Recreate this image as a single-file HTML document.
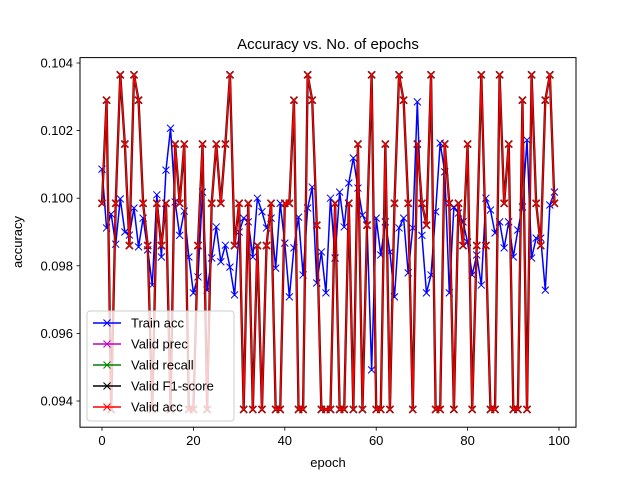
<!DOCTYPE html>
<html><head><meta charset="utf-8"><style>
html,body{margin:0;padding:0;background:#fff;}
svg{display:block;font-family:"Liberation Sans","DejaVu Sans",sans-serif;}
</style></head><body>
<svg id="chart" width="640" height="480" viewBox="0 0 640 480" xmlns="http://www.w3.org/2000/svg">
<rect x="0" y="0" width="640" height="480" fill="#fff"/>
<text x="328" y="49" font-size="15" text-anchor="middle">Accuracy vs. No. of epochs</text>
<text x="328" y="467" font-size="13" text-anchor="middle">epoch</text>
<text x="0" y="0" font-size="13" text-anchor="middle" transform="translate(22,242) rotate(-90)">accuracy</text>
<g id="ticks"></g>
<g id="series"></g>
<rect x="80" y="57.6" width="496" height="369.6" fill="none" stroke="#000" stroke-width="1"/>
<g id="legend"></g>
</svg>
<script>
const xTicks = [0, 20, 40, 60, 80, 100];
const yTicks = [0.094, 0.096, 0.098, 0.100, 0.102, 0.104];
const yTickLabels = ["0.094", "0.096", "0.098", "0.100", "0.102", "0.104"];
const trainAcc = [0.10086,0.09912,0.09953,0.09864,0.09998,0.0990,0.09891,0.09971,0.09856,0.09941,
0.09847,0.09743,0.1001,0.09826,0.10083,0.10207,0.09989,0.0989,0.09962,0.09826,
0.0972,0.09767,0.10018,0.09728,0.09823,0.09915,0.09812,0.09861,0.09796,0.09714,
0.0990,0.09941,0.0993,0.09826,0.1000,0.0996,0.09912,0.09941,0.09793,0.09985,
0.09867,0.09708,0.09853,0.09944,0.09773,0.09971,0.10033,0.09749,0.09841,0.0972,
0.1000,0.09823,0.10018,0.09915,0.10045,0.10119,0.1003,0.0995,0.09921,0.09492,
0.09941,0.09832,0.0993,0.09841,0.09708,0.09912,0.09941,0.09779,0.09912,0.10285,
0.0989,0.0972,0.09773,0.0996,0.10163,0.10078,0.0972,0.09974,0.09956,0.0993,
0.0987,0.09773,0.09832,0.09743,0.1000,0.09965,0.09897,0.0993,0.09853,0.0993,
0.09826,0.09906,0.09974,0.10172,0.09823,0.09882,0.09882,0.09728,0.0998,0.10018];
const validAcc = [0.09985,0.1029,0.09375,0.09985,0.10365,0.1016,0.0986,0.10365,0.1029,0.09985,
0.0986,0.09375,0.09985,0.0986,0.09985,0.09375,0.1016,0.09985,0.1016,0.09375,
0.09375,0.0986,0.1016,0.09375,0.09985,0.1016,0.09985,0.1016,0.10365,0.0986,
0.09985,0.09375,0.09985,0.09375,0.0986,0.09375,0.0986,0.09985,0.09375,0.09375,
0.09985,0.09985,0.1029,0.09375,0.09375,0.10365,0.1029,0.0992,0.09375,0.09375,
0.09375,0.09985,0.09375,0.09375,0.09985,0.09375,0.1016,0.09375,0.0992,0.10365,
0.09375,0.09375,0.1016,0.09375,0.09985,0.10365,0.1029,0.09985,0.09375,0.1016,
0.09985,0.0992,0.10365,0.09375,0.09375,0.1016,0.09985,0.09375,0.09985,0.0986,
0.1016,0.09375,0.0986,0.10365,0.0986,0.09375,0.09375,0.10365,0.09985,0.1016,
0.09375,0.09375,0.1029,0.09375,0.10365,0.09985,0.0986,0.1029,0.10365,0.09985];
const validPrec = validAcc.slice();
const validRecall = validAcc.slice();
const validF1 = validAcc.slice();
const seriesNames = ["Train acc","Valid prec","Valid recall","Valid F1-score","Valid acc"];

const NS = "http://www.w3.org/2000/svg";
function xs(v){ return 102 + (v) * 4.57; }
function ys(v){ return 63 + (0.104 - v) * 33800; }
function mk(tag, attrs, parent){ const e=document.createElementNS(NS,tag); for(const k in attrs) e.setAttribute(k, attrs[k]); parent.appendChild(e); return e; }

const ticks = document.getElementById('ticks');
xTicks.forEach(t=>{
  const g = mk('g',{},ticks);
  
  
  mk('line',{x1:xs(t),x2:xs(t),y1:427.2,y2:430.7,stroke:'#000','stroke-width':0.8},g);
  const tx = mk('text',{x:xs(t),y:445,'font-size':13,'text-anchor':'middle'},g);
  tx.textContent = String(t);
});
yTicks.forEach((t,i)=>{
  const g = mk('g',{},ticks);
  
  
  mk('line',{x1:76.5,x2:80,y1:ys(t),y2:ys(t),stroke:'#000','stroke-width':0.8},g);
  const tx = mk('text',{x:73,y:ys(t)+4.5,'font-size':13,'text-anchor':'end'},g);
  tx.textContent = yTickLabels[i];
});

const series = document.getElementById('series');
function drawSeries(data, color, name, lw){
  const g = mk('g',{},series);
  
  
  const pts = data.map((v,i)=>xs(i).toFixed(2)+','+ys(v).toFixed(2)).join(' ');
  mk('polyline',{points:pts,fill:'none',stroke:color,'stroke-width':lw,'stroke-linejoin':'round'},g);
  let d='';
  data.forEach((v,i)=>{ const x=xs(i), y=ys(v), s=3.5;
    d += `M${x-s},${y-s}L${x+s},${y+s}M${x-s},${y+s}L${x+s},${y-s}`; });
  mk('path',{d:d,stroke:color,'stroke-width':lw>1.5?1.6:1,fill:'none'},g);
}
drawSeries(trainAcc,'#0000ff','train-acc-series',1.5);
drawSeries(validPrec,'#bf00bf','valid-prec-series',1.5);
drawSeries(validRecall,'#008000','valid-recall-series',1.5);
drawSeries(validF1,'#000000','valid-f1-series',2.3);
drawSeries(validAcc,'#ff0000','valid-acc-series',1.5);

const legend = document.getElementById('legend');
const lb = mk('rect',{x:87,y:311,width:147,height:110,rx:3,fill:'#fff','fill-opacity':0.8,stroke:'#ccc','stroke-width':1},legend);


const colors = ['#0000ff','#bf00bf','#008000','#000000','#ff0000'];
seriesNames.forEach((n,i)=>{
  const y = 323 + i*21;
  const g = mk('g',{},legend);
  
  
  mk('line',{x1:93,x2:121,y1:y,y2:y,stroke:colors[i],'stroke-width':1.5},g);
  mk('path',{d:`M103.5,${y-3.5}L110.5,${y+3.5}M103.5,${y+3.5}L110.5,${y-3.5}`,stroke:colors[i],'stroke-width':1},g);
  const t = mk('text',{x:131,y:y+4.5,'font-size':13},g);
  t.textContent = n;
});
</script>
</body></html>
